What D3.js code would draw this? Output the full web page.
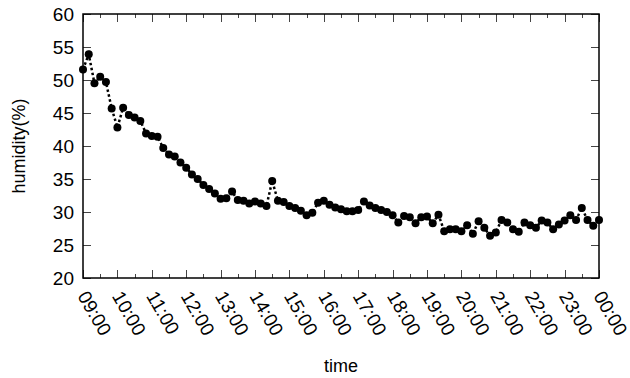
<!DOCTYPE html>
<html>
<head>
<meta charset="utf-8">
<script src="https://cdn.jsdelivr.net/npm/d3@7"></script>
<style>
  body { margin: 0; background: #fff; }
  text { font-family: "Liberation Sans", Arial, sans-serif; fill: #000; }
</style>
</head>
<body>
<svg id="canvas" width="630" height="378"></svg>
<script>
// readings every 10 minutes from 09:00 to 00:00
const startTime = new Date(2020, 0, 1, 9, 0)
const endTime = new Date(2020, 0, 2, 0, 0)
const humidity = [
  51.6, 53.9, 49.5, 50.5, 49.7, 45.7, 42.8, 45.8, 44.7, 44.3,
  43.8, 41.9, 41.5, 41.4, 39.7, 38.7, 38.4, 37.5, 36.7, 35.7,
  35.0, 34.1, 33.5, 32.8, 32.0, 32.1, 33.1, 31.8, 31.7, 31.3,
  31.6, 31.3, 30.9, 34.7, 31.7, 31.5, 30.9, 30.6, 30.2, 29.5,
  29.9, 31.4, 31.7, 31.1, 30.7, 30.4, 30.1, 30.1, 30.3, 31.6,
  31.0, 30.6, 30.3, 30.0, 29.5, 28.4, 29.4, 29.2, 28.3, 29.2,
  29.3, 28.3, 29.6, 27.1, 27.4, 27.4, 27.1, 28.0, 26.7, 28.6,
  27.6, 26.4, 26.9, 28.8, 28.4, 27.4, 27.0, 28.4, 28.0, 27.6,
  28.7, 28.4, 27.4, 28.1, 28.7, 29.5, 28.8, 30.6, 28.8, 27.9,
  28.8
]
const times = d3.timeMinute.every(10).range(startTime, d3.timeMinute.offset(endTime, 1))
const xTickLabels = ["09:00","10:00","11:00","12:00","13:00","14:00","15:00","16:00",
                     "17:00","18:00","19:00","20:00","21:00","22:00","23:00","00:00"]
const yTicks = [20, 25, 30, 35, 40, 45, 50, 55, 60]

const data = humidity.map((v, i) => ({t: times[i], v: v}))

let canvas = d3.select("#canvas")
const plotL = 83, plotR = 599, plotT = 14, plotB = 278

const x = d3.scaleTime().domain([startTime, endTime]).range([plotL, plotR])
const y = d3.scaleLinear().domain([20, 60]).range([plotB, plotT])

const hourTicks = d3.timeHour.range(startTime, d3.timeMinute.offset(endTime, 1))
const halfTicks = d3.timeMinute.every(30).range(startTime, endTime).filter(d => d.getMinutes() === 30)

// inward ticks on all four sides
const tickGrp = canvas.append("g").attr("stroke", "#444").attr("stroke-width", 1)
hourTicks.forEach(d => {
  const px = Math.round(x(d)) + 0.5
  tickGrp.append("line").attr("x1", px).attr("x2", px).attr("y1", plotB).attr("y2", plotB - 8)
  tickGrp.append("line").attr("x1", px).attr("x2", px).attr("y1", plotT).attr("y2", plotT + 8)
})
halfTicks.forEach(d => {
  const px = Math.round(x(d)) + 0.5
  tickGrp.append("line").attr("x1", px).attr("x2", px).attr("y1", plotB).attr("y2", plotB - 4)
  tickGrp.append("line").attr("x1", px).attr("x2", px).attr("y1", plotT).attr("y2", plotT + 4)
})
yTicks.forEach(d => {
  const py = Math.round(y(d)) + 0.5
  tickGrp.append("line").attr("x1", plotL).attr("x2", plotL + 8).attr("y1", py).attr("y2", py)
  tickGrp.append("line").attr("x1", plotR).attr("x2", plotR - 8).attr("y1", py).attr("y2", py)
})

canvas.append("rect")
  .attr("x", plotL).attr("y", plotT)
  .attr("width", plotR - plotL).attr("height", plotB - plotT)
  .attr("fill", "none").attr("stroke", "#000").attr("stroke-width", 1.5)

// y tick labels
canvas.selectAll(".ylab")
  .data(yTicks)
  .enter()
  .append("text")
  .attr("class", "ylab")
  .attr("x", plotL - 9)
  .attr("y", d => y(d) + 7)
  .attr("text-anchor", "end")
  .style("font-size", "19px")
  .text(d => d)

// x tick labels, rotated
canvas.selectAll(".xlab")
  .data(hourTicks)
  .enter()
  .append("text")
  .attr("class", "xlab")
  .attr("transform", d => `translate(${x(d) - 6},${plotB + 18}) rotate(60)`)
  .style("font-size", "19px")
  .text((d, i) => xTickLabels[i])

canvas.append("text")
  .attr("transform", `translate(25,${(plotT + plotB) / 2}) rotate(-90)`)
  .attr("text-anchor", "middle")
  .style("font-size", "18px")
  .text("humidity(%)")

canvas.append("text")
  .attr("x", (plotL + plotR) / 2)
  .attr("y", 372)
  .attr("text-anchor", "middle")
  .style("font-size", "18px")
  .text("time")

const line = d3.line().x(d => x(d.t)).y(d => y(d.v))
canvas.append("path")
  .datum(data)
  .attr("d", line)
  .attr("fill", "none")
  .attr("stroke", "#000")
  .attr("stroke-width", 2.5)
  .attr("stroke-dasharray", "2.5,2.5")

canvas.selectAll("circle")
  .data(data)
  .enter()
  .append("circle")
  .attr("cx", d => x(d.t))
  .attr("cy", d => y(d.v))
  .attr("r", 4)
  .attr("fill", "#000")
</script>
</body>
</html>
